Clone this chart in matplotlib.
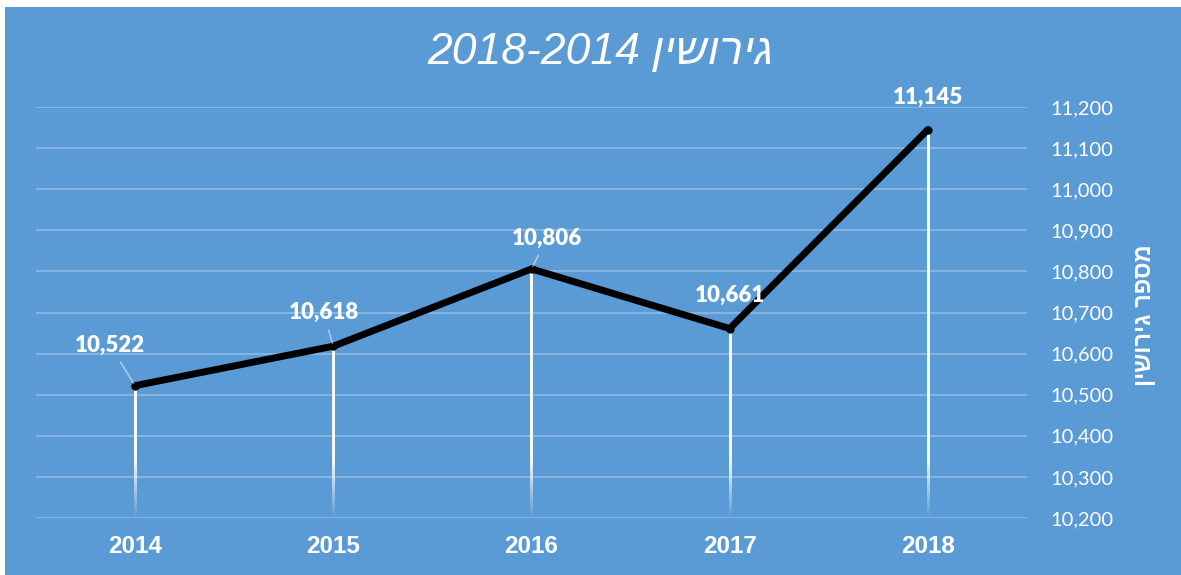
import numpy as np
import matplotlib.pyplot as plt
from matplotlib.patches import Rectangle
from matplotlib.ticker import FuncFormatter

# data
years = ['2014', '2015', '2016', '2017', '2018']
divorces = [10522, 10618, 10806, 10661, 11145]
y_ticks = [10200, 10300, 10400, 10500, 10600, 10700, 10800, 10900, 11000, 11100, 11200]

# hebrew written in visual (left-to-right) order, matplotlib has no bidi
title_text = '2018-2014 ' + 'גירושין'[::-1]
ylabel_text = 'מספר גירושין'[::-1]

BG = '#5B9BD5'
HEB = ['Liberation Sans', 'DejaVu Sans']
NUM = ['Lato', 'DejaVu Sans']

fig = plt.figure(figsize=(11.81, 5.75), dpi=100)
fig.patch.set_facecolor('white')
fig.add_artist(Rectangle((5 / 1181, 0), 1, 1 - 7 / 575, transform=fig.transFigure,
                         facecolor=BG, edgecolor='none', zorder=0))

ax = fig.add_axes([36 / 1181, 1 - 518 / 575, (1027 - 36) / 1181, (518 - 107) / 575])
ax.set_facecolor('none')
x = np.arange(len(years))
ymin, ymax = y_ticks[0], y_ticks[-1]

# gridlines
for t in y_ticks:
    ax.axhline(t, color='white', alpha=0.28, lw=1.3, zorder=1)

# drop lines, white fading out towards the bottom
half_w = 0.0055
for xi, v in zip(x, divorces):
    ys = np.linspace(ymin, v, 200)
    alpha = np.clip((ys - ymin) / 140.0, 0, 1) * 0.95
    grad = np.ones((len(ys), 1, 4))
    grad[:, 0, 3] = alpha
    ax.imshow(grad, extent=(xi - half_w, xi + half_w, ymin, v), origin='lower',
              aspect='auto', interpolation='bilinear', zorder=2)

ax.plot(x, divorces, color='black', lw=5, solid_capstyle='round',
        solid_joinstyle='miter', marker='o', ms=5, mfc='black', mec='black', zorder=3)

# data labels
offsets = [(-18, 29), (-7, 24), (11, 22), (0, 24), (0, 23)]
leaders = [True, True, True, False, False]
for xi, v, off, lead in zip(x, divorces, offsets, leaders):
    arrow = dict(arrowstyle='-', color='white', alpha=0.45, lw=1.2,
                 shrinkA=3, shrinkB=2) if lead else None
    ax.annotate(f'{v:,}', (xi, v), xytext=off, textcoords='offset points',
                ha='center', va='center', color='white', fontsize=16,
                fontweight='heavy', family=NUM, arrowprops=arrow, zorder=4)

ax.set_xlim(-0.5, len(years) - 0.5)
ax.set_ylim(ymin, ymax)
ax.set_xticks(x)
ax.set_xticklabels(years, fontsize=17.5, fontweight='bold', color='white', family=HEB)
ax.yaxis.tick_right()
ax.set_yticks(y_ticks)
ax.yaxis.set_major_formatter(FuncFormatter(lambda v, p: f'{int(v):,}'))
for lab in ax.get_yticklabels():
    lab.set_family(NUM)
    lab.set_fontsize(14.5)
    lab.set_color('white')
ax.tick_params(axis='both', length=0)
ax.tick_params(axis='x', pad=12)
ax.tick_params(axis='y', pad=17)
for s in ax.spines.values():
    s.set_visible(False)

fig.text(1145 / 1181, 1 - 315 / 575, ylabel_text, rotation=90, ha='center', va='center',
         color='white', fontsize=17, fontweight='bold', family=HEB)
fig.text(600 / 1181, 1 - 52 / 575, title_text, ha='center', va='center', color='white',
         fontsize=32, style='italic', family=HEB)

fig.savefig('out.png', dpi=100, facecolor=fig.get_facecolor())
